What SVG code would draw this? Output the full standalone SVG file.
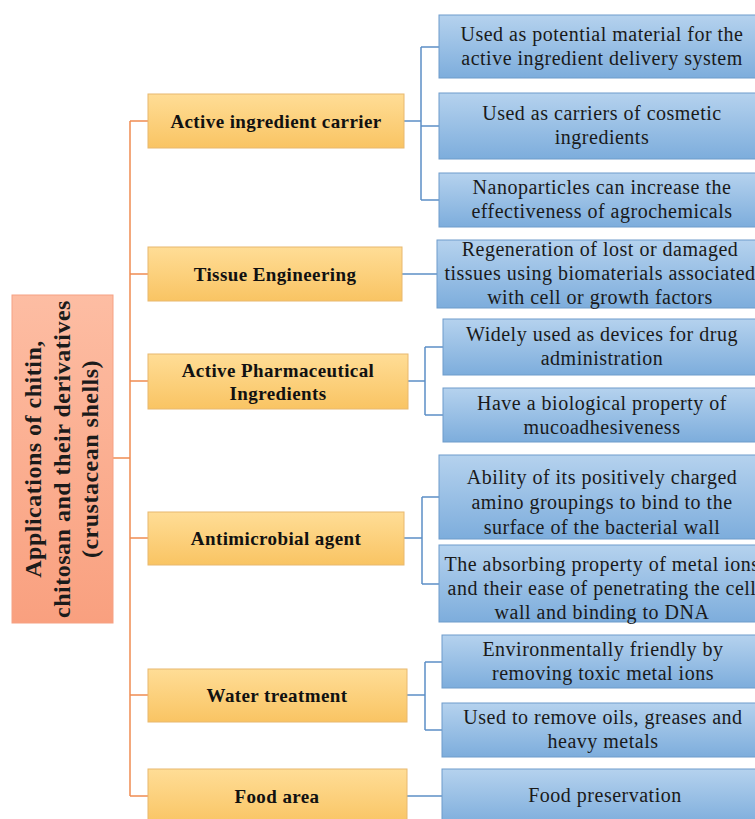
<svg xmlns="http://www.w3.org/2000/svg" width="755" height="819" viewBox="0 0 755 819">
<defs>
<linearGradient id="gRoot" x1="0" y1="0" x2="0" y2="1"><stop offset="0" stop-color="#FDBDA3"/><stop offset="1" stop-color="#F9A07F"/></linearGradient>
<linearGradient id="gOr" x1="0" y1="0" x2="0" y2="1"><stop offset="0" stop-color="#FFDD96"/><stop offset="1" stop-color="#F9C463"/></linearGradient>
<linearGradient id="gBl" x1="0" y1="0" x2="0" y2="1"><stop offset="0" stop-color="#B5D2EE"/><stop offset="1" stop-color="#7DADDC"/></linearGradient>
</defs>
<style>
.root{fill:url(#gRoot);stroke:#F6A183;stroke-width:1}
.or{fill:url(#gOr);stroke:#E8B86E;stroke-width:1}
.bl{fill:url(#gBl);stroke:#6E9CCB;stroke-width:1}
.tr{font-family:"Liberation Serif",serif;font-weight:bold;font-size:24px;letter-spacing:0.5px;fill:#1b1b1b;text-anchor:middle}
.to{font-family:"Liberation Serif",serif;font-weight:bold;font-size:19px;letter-spacing:0.4px;fill:#111;text-anchor:middle}
.tb{font-family:"Liberation Serif",serif;font-size:20px;letter-spacing:0.5px;fill:#1a1a1a;text-anchor:middle}
.co{fill:none;stroke:#F08C52;stroke-width:1.5}
.cb{fill:none;stroke:#5C8FC6;stroke-width:1.5}
</style>
<rect width="755" height="819" fill="#fff"/>
<g id="connectors">
<path class="co" d="M113 458H130M130 121V796M130 121H148M130 274H148M130 381H148M130 538H148M130 695H148M130 796H148"/>
<path class="cb" d="M404 121H421M421 47V200M421 47H439M421 126H439M421 200H439"/>
<path class="cb" d="M402 274H437"/>
<path class="cb" d="M408 381H425M425 347V415M425 347H443M425 415H443"/>
<path class="cb" d="M404 538H422M422 497V584M422 497H439M422 584H439"/>
<path class="cb" d="M407 695H425M425 662V730M425 662H442M425 730H442"/>
<path class="cb" d="M407 796H442"/>
</g>
<g id="root">
<rect class="root" x="12" y="295" width="101" height="328"/>
<g transform="translate(0,459) rotate(-90)">
<text class="tr" x="0" y="41">Applications of chitin,</text>
<text class="tr" x="0" y="70">chitosan and their derivatives</text>
<text class="tr" x="0" y="98">(crustacean shells)</text>
</g>
</g>
<g id="o1"><rect class="or" x="148" y="94" width="256" height="54"/><text class="to" x="276" y="128">Active ingredient carrier</text></g>
<g id="o2"><rect class="or" x="148" y="247" width="254" height="54"/><text class="to" x="275" y="281">Tissue Engineering</text></g>
<g id="o3"><rect class="or" x="148" y="354" width="260" height="55"/><text class="to" x="278" y="377">Active Pharmaceutical</text><text class="to" x="278" y="400">Ingredients</text></g>
<g id="o4"><rect class="or" x="148" y="512" width="256" height="53"/><text class="to" x="276" y="545">Antimicrobial agent</text></g>
<g id="o5"><rect class="or" x="148" y="669" width="259" height="53"/><text class="to" x="277" y="702">Water treatment</text></g>
<g id="o6"><rect class="or" x="148" y="769" width="259" height="56"/><text class="to" x="277" y="803">Food area</text></g>
<g id="b1"><rect class="bl" x="439" y="15" width="326" height="63"/><text class="tb" x="602" y="41">Used as potential material for the</text><text class="tb" x="602" y="65">active ingredient delivery system</text></g>
<g id="b2"><rect class="bl" x="439" y="93" width="326" height="66"/><text class="tb" x="602" y="120">Used as carriers of cosmetic</text><text class="tb" x="602" y="144">ingredients</text></g>
<g id="b3"><rect class="bl" x="439" y="173" width="326" height="54"/><text class="tb" x="602" y="194">Nanoparticles can increase the</text><text class="tb" x="602" y="218">effectiveness of agrochemicals</text></g>
<g id="b4"><rect class="bl" x="437" y="240" width="328" height="68"/><text class="tb" x="600" y="256">Regeneration of lost or damaged</text><text class="tb" x="600" y="280">tissues using biomaterials associated</text><text class="tb" x="600" y="304">with cell or growth factors</text></g>
<g id="b5"><rect class="bl" x="443" y="319" width="322" height="56"/><text class="tb" x="602" y="341">Widely used as devices for drug</text><text class="tb" x="602" y="365">administration</text></g>
<g id="b6"><rect class="bl" x="443" y="388" width="322" height="54"/><text class="tb" x="602" y="410">Have a biological property of</text><text class="tb" x="602" y="434">mucoadhesiveness</text></g>
<g id="b7"><rect class="bl" x="439" y="455" width="326" height="84"/><text class="tb" x="602" y="484">Ability of its positively charged</text><text class="tb" x="602" y="509">amino groupings to bind to the</text><text class="tb" x="602" y="534">surface of the bacterial wall</text></g>
<g id="b8"><rect class="bl" x="439" y="545" width="326" height="77"/><text class="tb" x="602" y="571">The absorbing property of metal ions</text><text class="tb" x="602" y="595">and their ease of penetrating the cell</text><text class="tb" x="602" y="619">wall and binding to DNA</text></g>
<g id="b9"><rect class="bl" x="442" y="635" width="323" height="53"/><text class="tb" x="603" y="656">Environmentally friendly by</text><text class="tb" x="603" y="680">removing toxic metal ions</text></g>
<g id="b10"><rect class="bl" x="442" y="703" width="323" height="54"/><text class="tb" x="603" y="724">Used to remove oils, greases and</text><text class="tb" x="603" y="748">heavy metals</text></g>
<g id="b11"><rect class="bl" x="442" y="769" width="323" height="56"/><text class="tb" x="605" y="802">Food preservation</text></g>
</svg>
